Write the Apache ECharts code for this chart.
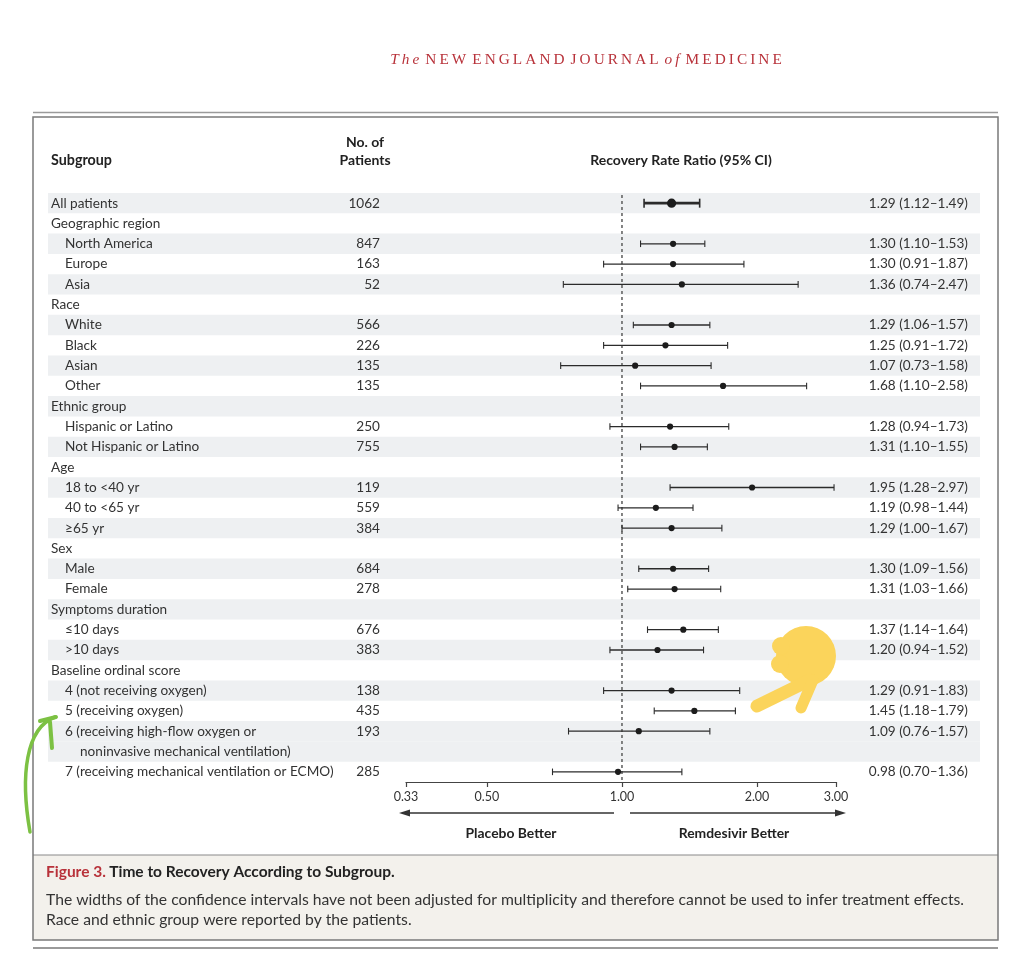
<!DOCTYPE html>
<html><head><meta charset="utf-8">
<script src="https://cdn.jsdelivr.net/npm/echarts@6/dist/echarts.min.js"></script>
<style>html,body{margin:0;padding:0;background:#fff}#c{width:1024px;height:957px}</style>
</head><body><div id="c"></div>
<script>
// ---------------- data ----------------
const subgroups = ['All patients','Geographic region','North America','Europe','Asia','Race','White','Black','Asian','Other','Ethnic group','Hispanic or Latino','Not Hispanic or Latino','Age','18 to <40 yr','40 to <65 yr','≥65 yr','Sex','Male','Female','Symptoms duration','≤10 days','>10 days','Baseline ordinal score','4 (not receiving oxygen)','5 (receiving oxygen)','6 (receiving high-flow oxygen or\nnoninvasive mechanical ventilation)','7 (receiving mechanical ventilation or ECMO)'];
const patients = [1062,null,847,163,52,null,566,226,135,135,null,250,755,null,119,559,384,null,684,278,null,676,383,null,138,435,193,285];
const ratio = [1.29,null,1.30,1.30,1.36,null,1.29,1.25,1.07,1.68,null,1.28,1.31,null,1.95,1.19,1.29,null,1.30,1.31,null,1.37,1.20,null,1.29,1.45,1.09,0.98];
const lower = [1.12,null,1.10,0.91,0.74,null,1.06,0.91,0.73,1.10,null,0.94,1.10,null,1.28,0.98,1.00,null,1.09,1.03,null,1.14,0.94,null,0.91,1.18,0.76,0.70];
const upper = [1.49,null,1.53,1.87,2.47,null,1.57,1.72,1.58,2.58,null,1.73,1.55,null,2.97,1.44,1.67,null,1.56,1.66,null,1.64,1.52,null,1.83,1.79,1.57,1.36];
const xMin = 0.33, xMax = 3.00;
const referenceValue = 1.00;
const axisLeftText = 'Placebo Better';
const axisRightText = 'Remdesivir Better';

// ---------------- build display lines ----------------
const FONT = 'Lato, "Open Sans", sans-serif';
const lineLabels = [], lineKinds = [], lineN = [], lineCI = [], rowLine = [], lineShaded = [];
let grouped = false;
subgroups.forEach((s, r) => {
  const isHeader = patients[r] == null;
  if (isHeader) grouped = true;
  const parts = s.split('\n');
  rowLine[r] = lineLabels.length;
  parts.forEach((p, k) => {
    lineLabels.push(p);
    lineKinds.push(k > 0 ? 'c' : (isHeader || !grouped ? 'h' : 'i'));
    lineN.push(k === 0 && !isHeader ? String(patients[r]) : '');
    lineCI.push(k === 0 && ratio[r] != null ?
      ratio[r].toFixed(2) + ' (' + lower[r].toFixed(2) + '–' + upper[r].toFixed(2) + ')' : '');
    lineShaded.push(r % 2 === 0);
  });
});
const shadeData = [];
lineShaded.forEach((s, i) => { if (s) shadeData.push([referenceValue, i]); });
const forestData = [];
subgroups.forEach((s, r) => {
  if (ratio[r] != null) forestData.push([ratio[r], rowLine[r], lower[r], upper[r]]);
});

const chart = echarts.init(document.getElementById('c'), null, {renderer: 'canvas'});
const txt = {fontFamily: FONT, fontSize: 13.6, color: '#333'};
const catAxis = (data, extra) => Object.assign({
  type: 'category', data: data, inverse: true, z: 10,
  axisLine: {show: false}, axisTick: {show: false}, splitLine: {show: false}
}, extra);

const spaced = s => s.split('').join('\u2009');
const Y = '#fbd45b', G = '#7cc143';

chart.setOption({
  animation: false,
  grid: {left: 406, right: 188, top: 193, height: 589},
  xAxis: {
    type: 'log', logBase: 2, min: xMin, max: xMax, z: 10,
    axisLine: {show: true, onZero: false, lineStyle: {color: '#444', width: 1.2}},
    axisTick: {show: true, length: 5, lineStyle: {color: '#444', width: 1.2}},
    axisLabel: {showMinLabel: true, showMaxLabel: true, margin: 8, fontFamily: FONT, fontSize: 12.5, color: '#333',
      formatter: v => Number(v).toFixed(2)},
    splitLine: {show: false}
  },
  yAxis: [
    catAxis(lineLabels, {position: 'left', axisLabel: {interval: 0, align: 'left', margin: 355,
      formatter: (v, i) => '{' + lineKinds[i] + '|' + v + '}',
      rich: {
        h: Object.assign({}, txt),
        i: Object.assign({padding: [0, 0, 0, 14]}, txt),
        c: Object.assign({padding: [0, 0, 0, 29]}, txt)
      }}}),
    catAxis(lineN, {position: 'left', axisLabel: Object.assign({interval: 0, align: 'right', margin: 26}, txt)}),
    catAxis(lineCI, {position: 'right', axisLabel: Object.assign({interval: 0, align: 'right', margin: 132}, txt)})
  ],
  series: [
    {
      type: 'custom', name: 'rows', z: 1, silent: true, clip: false,
      data: shadeData, encode: {x: 0, y: 1},
      renderItem: (params, api) => {
        const y = api.coord([referenceValue, api.value(1)])[1];
        const h = api.size([0, 1])[1];
        return {type: 'rect', shape: {x: 48, y: y - h / 2, width: 932, height: h},
          style: {fill: '#eef0f2'}};
      }
    },
    {
      type: 'custom', name: 'reference', z: 2, silent: true, clip: false,
      data: [[referenceValue, 0]], encode: {x: 0, y: 1},
      renderItem: (params, api) => {
        const x = api.coord([api.value(0), 0])[0];
        const cs = params.coordSys;
        return {type: 'line', shape: {x1: x, y1: cs.y + 2, x2: x, y2: cs.y + cs.height - 2},
          style: {stroke: '#666', lineWidth: 1.6, lineDash: [3, 3]}};
      }
    },
    {
      type: 'custom', name: 'ratio', z: 3, silent: true, clip: false,
      data: forestData, encode: {x: [0, 2, 3], y: 1},
      renderItem: (params, api) => {
        const idx = api.value(1);
        const c = api.coord([api.value(0), idx]);
        const lo = api.coord([api.value(2), idx]);
        const hi = api.coord([api.value(3), idx]);
        const bold = params.dataIndex === 0;
        const lw = bold ? 2.6 : 1.3, cap = bold ? 4.5 : 3.3, r = bold ? 4.6 : 3.1;
        const col = '#2b2b2b';
        return {type: 'group', children: [
          {type: 'line', shape: {x1: lo[0], y1: c[1], x2: hi[0], y2: c[1]}, style: {stroke: col, lineWidth: lw}},
          {type: 'line', shape: {x1: lo[0], y1: c[1] - cap, x2: lo[0], y2: c[1] + cap}, style: {stroke: col, lineWidth: bold ? 1.6 : 1.1}},
          {type: 'line', shape: {x1: hi[0], y1: c[1] - cap, x2: hi[0], y2: c[1] + cap}, style: {stroke: col, lineWidth: bold ? 1.6 : 1.1}},
          {type: 'circle', shape: {cx: c[0], cy: c[1], r: r}, style: {fill: '#1c1c1c'}}
        ]};
      }
    }
  ],
  graphic: [
    // masthead
    {type: 'text', x: 586, y: 60, style: {align: 'center', verticalAlign: 'middle',
      text: '{i|' + spaced('The') + '}\u2002{c|' + spaced('NEW') + '}\u2002{c|' + spaced('ENGLAND') + '}\u2002{c|' + spaced('JOURNAL') + '}\u2002{i|' + spaced('of') + '}\u2002{c|' + spaced('MEDICINE') + '}',
      rich: {
        i: {fontFamily: '"Liberation Serif", "DejaVu Serif", serif', fontStyle: 'italic', fontSize: 15.3, fill: '#b8323a'},
        c: {fontFamily: '"Liberation Serif", "DejaVu Serif", serif', fontSize: 15.3, fill: '#b8323a'}
      }}},
    // frame
    {type: 'line', shape: {x1: 33, y1: 112.5, x2: 998, y2: 112.5}, style: {stroke: '#9a9a9a', lineWidth: 1.5}},
    {type: 'rect', shape: {x: 33, y: 855, width: 965, height: 85}, style: {fill: '#f3f1ec', stroke: null}},
    {type: 'line', shape: {x1: 33, y1: 855, x2: 998, y2: 855}, style: {stroke: '#8a8a8a', lineWidth: 1.2}},
    {type: 'rect', shape: {x: 33, y: 117, width: 965, height: 823}, style: {fill: null, stroke: '#7a7a7a', lineWidth: 1.5}},
    {type: 'line', shape: {x1: 33, y1: 948, x2: 998, y2: 948}, style: {stroke: '#9a9a9a', lineWidth: 2}},
    // headers
    {type: 'text', x: 51, y: 160, style: {text: 'Subgroup', fontFamily: FONT, fontWeight: 'bold', fontSize: 14.3, fill: '#222', verticalAlign: 'middle'}},
    {type: 'text', x: 365, y: 151, style: {text: 'No. of\nPatients', lineHeight: 18, align: 'center', fontFamily: FONT, fontWeight: 'bold', fontSize: 14, fill: '#222', verticalAlign: 'middle'}},
    {type: 'text', x: 681, y: 160, style: {text: 'Recovery Rate Ratio (95% CI)', align: 'center', fontFamily: FONT, fontWeight: 'bold', fontSize: 14, fill: '#222', verticalAlign: 'middle'}},
    // direction arrows
    {type: 'line', shape: {x1: 406, y1: 813, x2: 614, y2: 813}, style: {stroke: '#333', lineWidth: 1.3}},
    {type: 'polygon', shape: {points: [[399, 813], [410, 809.5], [410, 816.5]]}, style: {fill: '#333'}},
    {type: 'line', shape: {x1: 630, y1: 813, x2: 838, y2: 813}, style: {stroke: '#333', lineWidth: 1.3}},
    {type: 'polygon', shape: {points: [[846, 813], [835, 809.5], [835, 816.5]]}, style: {fill: '#333'}},
    {type: 'text', x: 511, y: 834, style: {text: axisLeftText, align: 'center', verticalAlign: 'middle', fontFamily: FONT, fontWeight: 'bold', fontSize: 13.9, fill: '#222'}},
    {type: 'text', x: 734, y: 834, style: {text: axisRightText, align: 'center', verticalAlign: 'middle', fontFamily: FONT, fontWeight: 'bold', fontSize: 13.9, fill: '#222'}},
    // caption
    {type: 'text', x: 46, y: 872, style: {verticalAlign: 'middle',
      text: '{r|Figure 3.} {b|Time to Recovery According to Subgroup.}',
      rich: {
        r: {fontFamily: FONT, fontWeight: 'bold', fontSize: 15.5, fill: '#b8323a'},
        b: {fontFamily: FONT, fontWeight: 'bold', fontSize: 15.5, fill: '#222'}
      }}},
    {type: 'text', x: 46, y: 900, style: {verticalAlign: 'middle', fontFamily: FONT, fontSize: 15.7, fill: '#333',
      text: 'The widths of the confidence intervals have not been adjusted for multiplicity and therefore cannot be used to infer treatment effects.'}},
    {type: 'text', x: 46, y: 920, style: {verticalAlign: 'middle', fontFamily: FONT, fontSize: 15.7, fill: '#333',
      text: 'Race and ethnic group were reported by the patients.'}},
    // hand-drawn annotations on the page
    {type: 'circle', z: 100, shape: {cx: 806, cy: 656, r: 30}, style: {fill: Y}},
    {type: 'circle', z: 100, shape: {cx: 781, cy: 646, r: 9}, style: {fill: Y}},
    {type: 'circle', z: 100, shape: {cx: 780, cy: 664, r: 9}, style: {fill: Y}},
    {type: 'line', z: 100, shape: {x1: 810, y1: 680, x2: 757, y2: 706}, style: {stroke: Y, lineWidth: 13, lineCap: 'round'}},
    {type: 'line', z: 100, shape: {x1: 813, y1: 680, x2: 801, y2: 708}, style: {stroke: Y, lineWidth: 11, lineCap: 'round'}},
    {type: 'bezierCurve', z: 100, shape: {x1: 30, y1: 832, cpx1: 20, cpy1: 775, cpx2: 26, cpy2: 728, x2: 55, y2: 717}, style: {stroke: G, lineWidth: 3.5, fill: null, lineCap: 'round'}},
    {type: 'line', z: 100, shape: {x1: 56, y1: 717, x2: 40, y2: 721}, style: {stroke: G, lineWidth: 4, lineCap: 'round'}},
    {type: 'line', z: 100, shape: {x1: 50, y1: 722, x2: 52, y2: 748}, style: {stroke: G, lineWidth: 4, lineCap: 'round'}}
  ]
});
</script>
</body></html>
